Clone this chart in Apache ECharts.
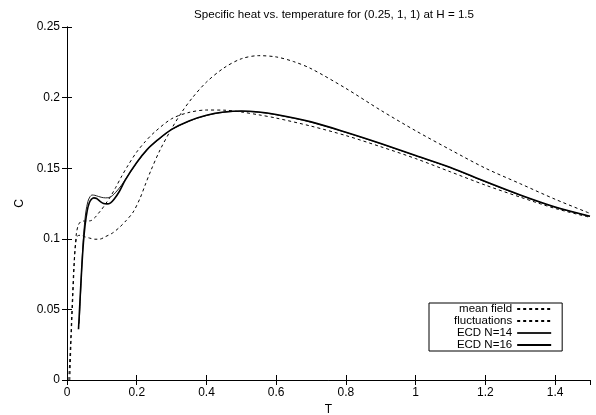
<!DOCTYPE html>
<html>
<head>
    <meta charset="utf-8">
    <script src="https://cdn.jsdelivr.net/npm/echarts@6/dist/echarts.min.js"></script>
</head>
<body style="margin:0; background:#fff">
<div id="main" style="width: 596px; height:415px"></div>
<script type="text/javascript">

    var titleText = 'Specific heat vs. temperature for (0.25, 1, 1) at H = 1.5';
    var seriesNames = ['mean field', 'fluctuations', 'ECD N=14', 'ECD N=16'];

    // mean field
    var meanFieldT = [0.005, 0.01, 0.015, 0.02, 0.025, 0.03, 0.04, 0.05, 0.065, 0.08, 0.095, 0.11, 0.13, 0.15, 0.17,
        0.19, 0.21, 0.224, 0.24, 0.267, 0.3, 0.33, 0.36, 0.4, 0.45, 0.5, 0.55, 0.6, 0.65, 0.7, 0.8, 0.9, 1.0, 1.1, 1.2, 1.3, 1.4, 1.5];
    var meanFieldC = [0, 0.025, 0.055, 0.082, 0.097, 0.102, 0.1025, 0.1015, 0.1005, 0.0997, 0.0998, 0.1015, 0.104, 0.108, 0.113,
        0.119, 0.129, 0.138, 0.148, 0.163, 0.178, 0.19, 0.2, 0.211, 0.221, 0.2275, 0.2297, 0.2288, 0.2255, 0.2205, 0.2065, 0.191, 0.1765, 0.163, 0.150, 0.139, 0.128, 0.118];

    // fluctuations
    var flucT = [0.008, 0.012, 0.017, 0.022, 0.027, 0.033, 0.04, 0.05, 0.06, 0.07, 0.08, 0.09, 0.1, 0.11, 0.125, 0.14, 0.155, 0.175,
        0.2, 0.225, 0.25, 0.3, 0.35, 0.4, 0.45, 0.5, 0.55, 0.6, 0.7, 0.8, 0.9, 1.0, 1.1, 1.2, 1.3, 1.4, 1.5];
    var flucC = [0, 0.03, 0.06, 0.088, 0.104, 0.110, 0.1122, 0.1126, 0.1126, 0.113, 0.115, 0.118, 0.121, 0.1245, 0.13, 0.1365, 0.1435, 0.152,
        0.1615, 0.169, 0.1753, 0.185, 0.1895, 0.1912, 0.1911, 0.1898, 0.1878, 0.1855, 0.1798, 0.1731, 0.1652, 0.1568, 0.1474, 0.138, 0.1295, 0.1215, 0.1152];

    // ECD N=14
    var ecd14T = [0.035, 0.039, 0.044, 0.049, 0.054, 0.06, 0.066, 0.072, 0.08, 0.09, 0.1, 0.11, 0.12, 0.13, 0.14, 0.155, 0.17,
        0.2, 0.229, 0.26, 0.3, 0.35, 0.4, 0.45, 0.5, 0.55, 0.6, 0.7, 0.8, 0.9, 1.0, 1.1, 1.2, 1.3, 1.4, 1.5];
    var ecd14C = [0.04, 0.062, 0.088, 0.107, 0.119, 0.1265, 0.1298, 0.131, 0.1308, 0.13, 0.1293, 0.129, 0.1292, 0.1305, 0.133, 0.1375, 0.143,
        0.1538, 0.1628, 0.1698, 0.1773, 0.1833, 0.1873, 0.1896, 0.1903, 0.1896, 0.1878, 0.1826, 0.1753, 0.1673, 0.1588, 0.1503, 0.1403, 0.1308, 0.1223, 0.1158];

    // ECD N=16
    var ecd16T = [0.033, 0.037, 0.042, 0.047, 0.052, 0.058, 0.064, 0.07, 0.077, 0.085, 0.095, 0.105, 0.115, 0.125, 0.135, 0.15, 0.167,
        0.2, 0.229, 0.26, 0.3, 0.35, 0.4, 0.45, 0.5, 0.55, 0.6, 0.7, 0.8, 0.9, 1.0, 1.1, 1.2, 1.3, 1.4, 1.5];
    var ecd16C = [0.036, 0.055, 0.078, 0.097, 0.11, 0.12, 0.1255, 0.128, 0.129, 0.1285, 0.1265, 0.125, 0.1247, 0.1255, 0.128, 0.1335, 0.1416,
        0.154, 0.163, 0.170, 0.1775, 0.1835, 0.1875, 0.1898, 0.1905, 0.1898, 0.188, 0.1828, 0.1755, 0.1675, 0.159, 0.1505, 0.1405, 0.131, 0.1225, 0.116];

    function zip(t, c) {
        var out = [];
        for (var i = 0; i < t.length; i++) out.push([t[i], c[i]]);
        return out;
    }

    var font = 'Liberation Sans, Arial, sans-serif';
    var tickOn = {show: true, inside: true, length: 5, lineStyle: {color: '#000', width: 1}};
    var frame = {show: true, lineStyle: {color: '#000', width: 1}};

    var myChart = echarts.init(document.getElementById('main'));
    var option = {
        animation: false,
        backgroundColor: '#fff',
        textStyle: {fontFamily: font, color: '#000'},
        title: {
            text: titleText, left: 329, top: 4, textAlign: 'center',
            textStyle: {fontSize: 11.6, fontWeight: 'normal', color: '#000', fontFamily: font}
        },
        grid: {left: 67, right: 6, top: 27, bottom: 35, outerBoundsMode: 'none', containLabel: false},
        legend: {
            data: seriesNames,
            orient: 'vertical', left: 429, top: 303, align: 'right',
            itemWidth: 34, itemHeight: 12, itemGap: 0,
            padding: [0, 10, 0, 25],
            borderColor: '#000', borderWidth: 1,
            itemStyle: {opacity: 0},
            textStyle: {fontSize: 11.5, color: '#000', fontFamily: font, lineHeight: 12}
        },
        xAxis: [{
            type: 'value', min: 0, max: 1.5, interval: 0.2,
            name: 'T', nameLocation: 'middle', nameGap: 20,
            nameTextStyle: {fontSize: 12, color: '#000', fontFamily: font},
            axisLine: frame, axisTick: tickOn, splitLine: {show: false},
            axisLabel: {fontSize: 12, color: '#000', margin: 7, showMaxLabel: false, fontFamily: font}
        }, {
            type: 'value', min: 0, max: 1.5, interval: 0.2, position: 'top',
            axisLine: frame, axisTick: tickOn, splitLine: {show: false}, axisLabel: {show: false}
        }],
        yAxis: [{
            type: 'value', min: 0, max: 0.25, interval: 0.05,
            name: 'C', nameLocation: 'middle', nameGap: 41, nameRotate: 90,
            nameTextStyle: {fontSize: 12, color: '#000', fontFamily: font},
            axisLine: frame, axisTick: tickOn, splitLine: {show: false},
            axisLabel: {fontSize: 12, color: '#000', margin: 7, fontFamily: font}
        }, {
            type: 'value', min: 0, max: 0.25, interval: 0.05, position: 'right',
            axisLine: frame, axisTick: tickOn, splitLine: {show: false}, axisLabel: {show: false}
        }],
        series: [
            {name: seriesNames[0], type: 'line', data: zip(meanFieldT, meanFieldC), smooth: 0.3, symbol: 'none',
                lineStyle: {color: '#000', width: 1, type: [3, 3]}, itemStyle: {color: '#000'}},
            {name: seriesNames[1], type: 'line', data: zip(flucT, flucC), smooth: 0.3, symbol: 'none',
                lineStyle: {color: '#000', width: 1, type: [3, 3]}, itemStyle: {color: '#000'}},
            {name: seriesNames[2], type: 'line', data: zip(ecd14T, ecd14C), smooth: 0.3, symbol: 'none',
                lineStyle: {color: '#222', width: 1}, itemStyle: {color: '#222'}},
            {name: seriesNames[3], type: 'line', data: zip(ecd16T, ecd16C), smooth: 0.3, symbol: 'none',
                lineStyle: {color: '#000', width: 1.6}, itemStyle: {color: '#000'}}
        ]
    };
    myChart.setOption(option);
</script>
</body>
</html>
